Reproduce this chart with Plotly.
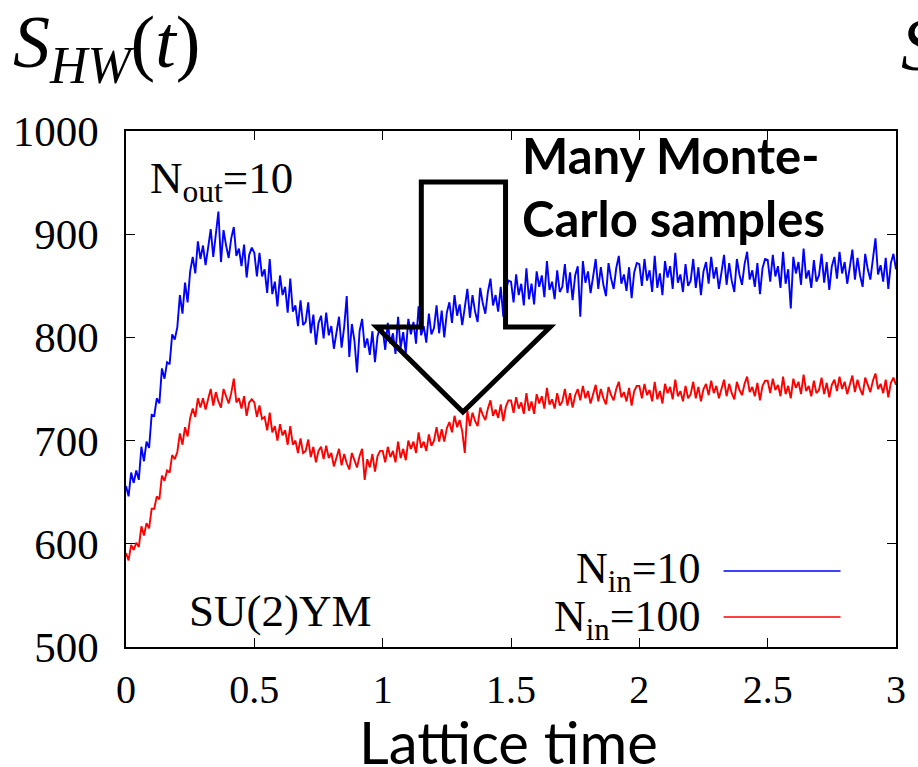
import plotly.graph_objects as go

# ---------------- data ----------------
t_step = 0.01
n_pts = 301
time = [round(i * t_step, 2) for i in range(n_pts)]

s_hw_nin10 = [
    656, 646, 669, 659, 671, 662, 694, 680, 699, 693,
    725, 724, 741, 736, 770, 760, 776, 774, 803, 798,
    810, 841, 823, 853, 834, 864, 878, 862, 893, 876,
    889, 870, 887, 905, 878, 901, 922, 873, 904, 889,
    877, 896, 907, 879, 886, 869, 890, 858, 880, 887,
    882, 859, 882, 859, 866, 843, 876, 842, 854, 830,
    860, 841, 849, 824, 857, 825, 831, 811, 836, 812,
    815, 834, 804, 822, 793, 814, 821, 799, 824, 802,
    811, 789, 804, 820, 790, 810, 840, 781, 813, 797,
    766, 806, 818, 790, 799, 783, 806, 776, 801, 810,
    808, 788, 814, 794, 804, 784, 820, 790, 805, 785,
    818, 803, 815, 794, 830, 802, 811, 795, 823, 803,
    809, 831, 804, 826, 800, 824, 834, 814, 841, 821,
    832, 812, 829, 847, 819, 841, 825, 815, 848, 833,
    823, 844, 857, 831, 841, 825, 849, 820, 846, 855,
    854, 834, 861, 841, 852, 831, 867, 837, 852, 832,
    864, 849, 860, 839, 874, 846, 854, 837, 865, 844,
    849, 871, 843, 863, 836, 860, 869, 820, 874, 853,
    864, 843, 859, 876, 847, 868, 851, 840, 872, 857,
    847, 867, 879, 852, 861, 845, 868, 838, 863, 872,
    871, 850, 876, 855, 865, 844, 879, 848, 862, 841,
    874, 858, 869, 847, 882, 853, 861, 844, 871, 850,
    855, 876, 848, 868, 841, 864, 873, 852, 878, 857,
    868, 847, 863, 880, 851, 872, 855, 844, 876, 861,
    851, 871, 883, 856, 865, 849, 872, 842, 867, 876,
    875, 854, 880, 859, 869, 848, 883, 852, 866, 828,
    878, 862, 873, 851, 886, 857, 865, 848, 875, 854,
    860, 881, 853, 873, 846, 869, 878, 857, 883, 862,
    873, 852, 868, 885, 856, 877, 860, 849, 881, 866,
    856, 876, 896, 861, 870, 854, 877, 847, 872, 881,
    866,
]

s_hw_nin100 = [
    591, 584, 599, 594, 601, 597, 617, 608, 620, 615,
    634, 634, 646, 643, 666, 661, 671, 669, 686, 682,
    689, 707, 696, 713, 704, 722, 731, 723, 741, 732,
    741, 730, 740, 750, 734, 747, 738, 732, 750, 742,
    736, 746, 760, 737, 741, 731, 743, 724, 737, 740,
    737, 723, 734, 721, 723, 710, 727, 708, 714, 700,
    716, 705, 710, 696, 714, 696, 700, 688, 702, 688,
    690, 701, 684, 694, 679, 690, 694, 682, 695, 683,
    688, 675, 684, 692, 676, 687, 678, 672, 688, 680,
    674, 685, 692, 662, 682, 674, 687, 670, 685, 690,
    690, 679, 694, 684, 690, 679, 699, 683, 692, 681,
    700, 692, 699, 688, 708, 693, 699, 690, 706, 695,
    700, 713, 699, 711, 699, 712, 718, 708, 724, 713,
    720, 709, 688, 729, 714, 727, 719, 714, 732, 725,
    720, 731, 739, 724, 730, 722, 735, 719, 733, 739,
    739, 727, 742, 731, 737, 726, 746, 729, 738, 726,
    745, 736, 743, 731, 751, 735, 740, 731, 746, 734,
    738, 750, 734, 746, 732, 744, 750, 739, 753, 741,
    748, 736, 745, 754, 738, 750, 741, 735, 752, 744,
    739, 750, 757, 742, 747, 738, 751, 734, 748, 753,
    753, 741, 755, 744, 749, 738, 757, 740, 748, 736,
    755, 746, 752, 740, 759, 743, 748, 738, 753, 741,
    745, 757, 741, 752, 738, 750, 755, 744, 758, 746,
    753, 741, 750, 759, 743, 755, 746, 740, 757, 749,
    744, 755, 762, 747, 752, 743, 756, 739, 753, 758,
    758, 746, 760, 749, 754, 743, 762, 745, 753, 741,
    760, 751, 757, 745, 764, 748, 753, 743, 758, 746,
    749, 761, 745, 756, 742, 754, 759, 748, 762, 750,
    757, 745, 754, 763, 747, 759, 750, 744, 761, 753,
    747, 758, 765, 750, 755, 746, 759, 742, 756, 761,
    754,
]

x_tickvals = [0, 0.5, 1, 1.5, 2, 2.5, 3]
x_ticktext = ["0", "0.5", "1", "1.5", "2", "2.5", "3"]
y_tickvals = [500, 600, 700, 800, 900, 1000]
y_ticktext = ["500", "600", "700", "800", "900", "1000"]

series_names = ["N<sub>in</sub>=10", "N<sub>in</sub>=100"]
series_colors = ["#0000ff", "#ff0000"]

# ---------------- layout geometry (pixels) ----------------
W, H = 918, 767
L, R, T, B = 126, 15, 131, 120
PW, PH = W - L - R, H - T - B


def px(x):
    return (x - L) / PW


def py(y):
    return (H - B - y) / PH


fig = go.Figure()
for ys, name, col in zip([s_hw_nin10, s_hw_nin100], series_names, series_colors):
    fig.add_trace(go.Scatter(x=time, y=ys, mode="lines", name=name,
                             line=dict(color=col, width=1.9), showlegend=False))

serif = "Liberation Serif"
axis_common = dict(showline=True, linecolor="black", linewidth=1.5, mirror="ticks",
                   ticks="inside", ticklen=9, tickwidth=1.2, tickcolor="black",
                   showgrid=False, zeroline=False)

fig.update_xaxes(range=[0, 3], tickvals=x_tickvals, ticktext=x_ticktext,
                 tickfont=dict(family=serif, size=40, color="black"),
                 ticklabelstandoff=6, **axis_common)
fig.update_yaxes(range=[500, 1000], tickvals=y_tickvals, ticktext=y_ticktext,
                 tickfont=dict(family=serif, size=43, color="black"),
                 ticklabelstandoff=17, **axis_common)

ann = []


def add_text(text, x, y, xanchor, size, family=serif, yanchor="middle", color="black"):
    ann.append(dict(text=text, x=px(x), y=py(y), xref="paper", yref="paper",
                    xanchor=xanchor, yanchor=yanchor, showarrow=False,
                    font=dict(family=family, size=size, color=color)))


add_text("<i>S</i><sub><i>HW</i></sub>(<i>t</i>)", 10, 48, "left", 74)
add_text("<i>S</i>", 906, 45, "left", 74)
add_text("N<sub>out</sub>=10", 148, 181, "left", 45)
add_text("SU(2)YM", 188, 611, "left", 45)
add_text(series_names[0], 708, 571, "right", 44)
add_text(series_names[1], 708, 619, "right", 44)
add_text("<b>Many Monte-</b>", 524, 155, "left", 49, family="Lato")
add_text("<b>Carlo samples</b>", 524, 218, "left", 49, family="Lato")
add_text("Lattice time", 512, 742, "center", 58, family="Lato")

shapes = []
for yy, col in zip([571, 617], series_colors):
    shapes.append(dict(type="line", xref="paper", yref="paper",
                       x0=px(729), x1=px(847), y0=py(yy), y1=py(yy),
                       line=dict(color=col, width=1.5)))

arrow_pts = [(424, 182), (509, 182), (509, 327), (554, 327), (466, 412),
             (379, 327), (424, 327)]
path = "M " + " L ".join(f"{px(a):.5f},{py(b):.5f}" for a, b in arrow_pts) + " Z"
shapes.append(dict(type="path", xref="paper", yref="paper", path=path,
                   line=dict(color="black", width=5), fillcolor="rgba(0,0,0,0)"))

fig.update_layout(width=W, height=H, margin=dict(l=L, r=R, t=T, b=B),
                  paper_bgcolor="white", plot_bgcolor="white",
                  annotations=ann, shapes=shapes, showlegend=False)

fig.write_html("out.html")
